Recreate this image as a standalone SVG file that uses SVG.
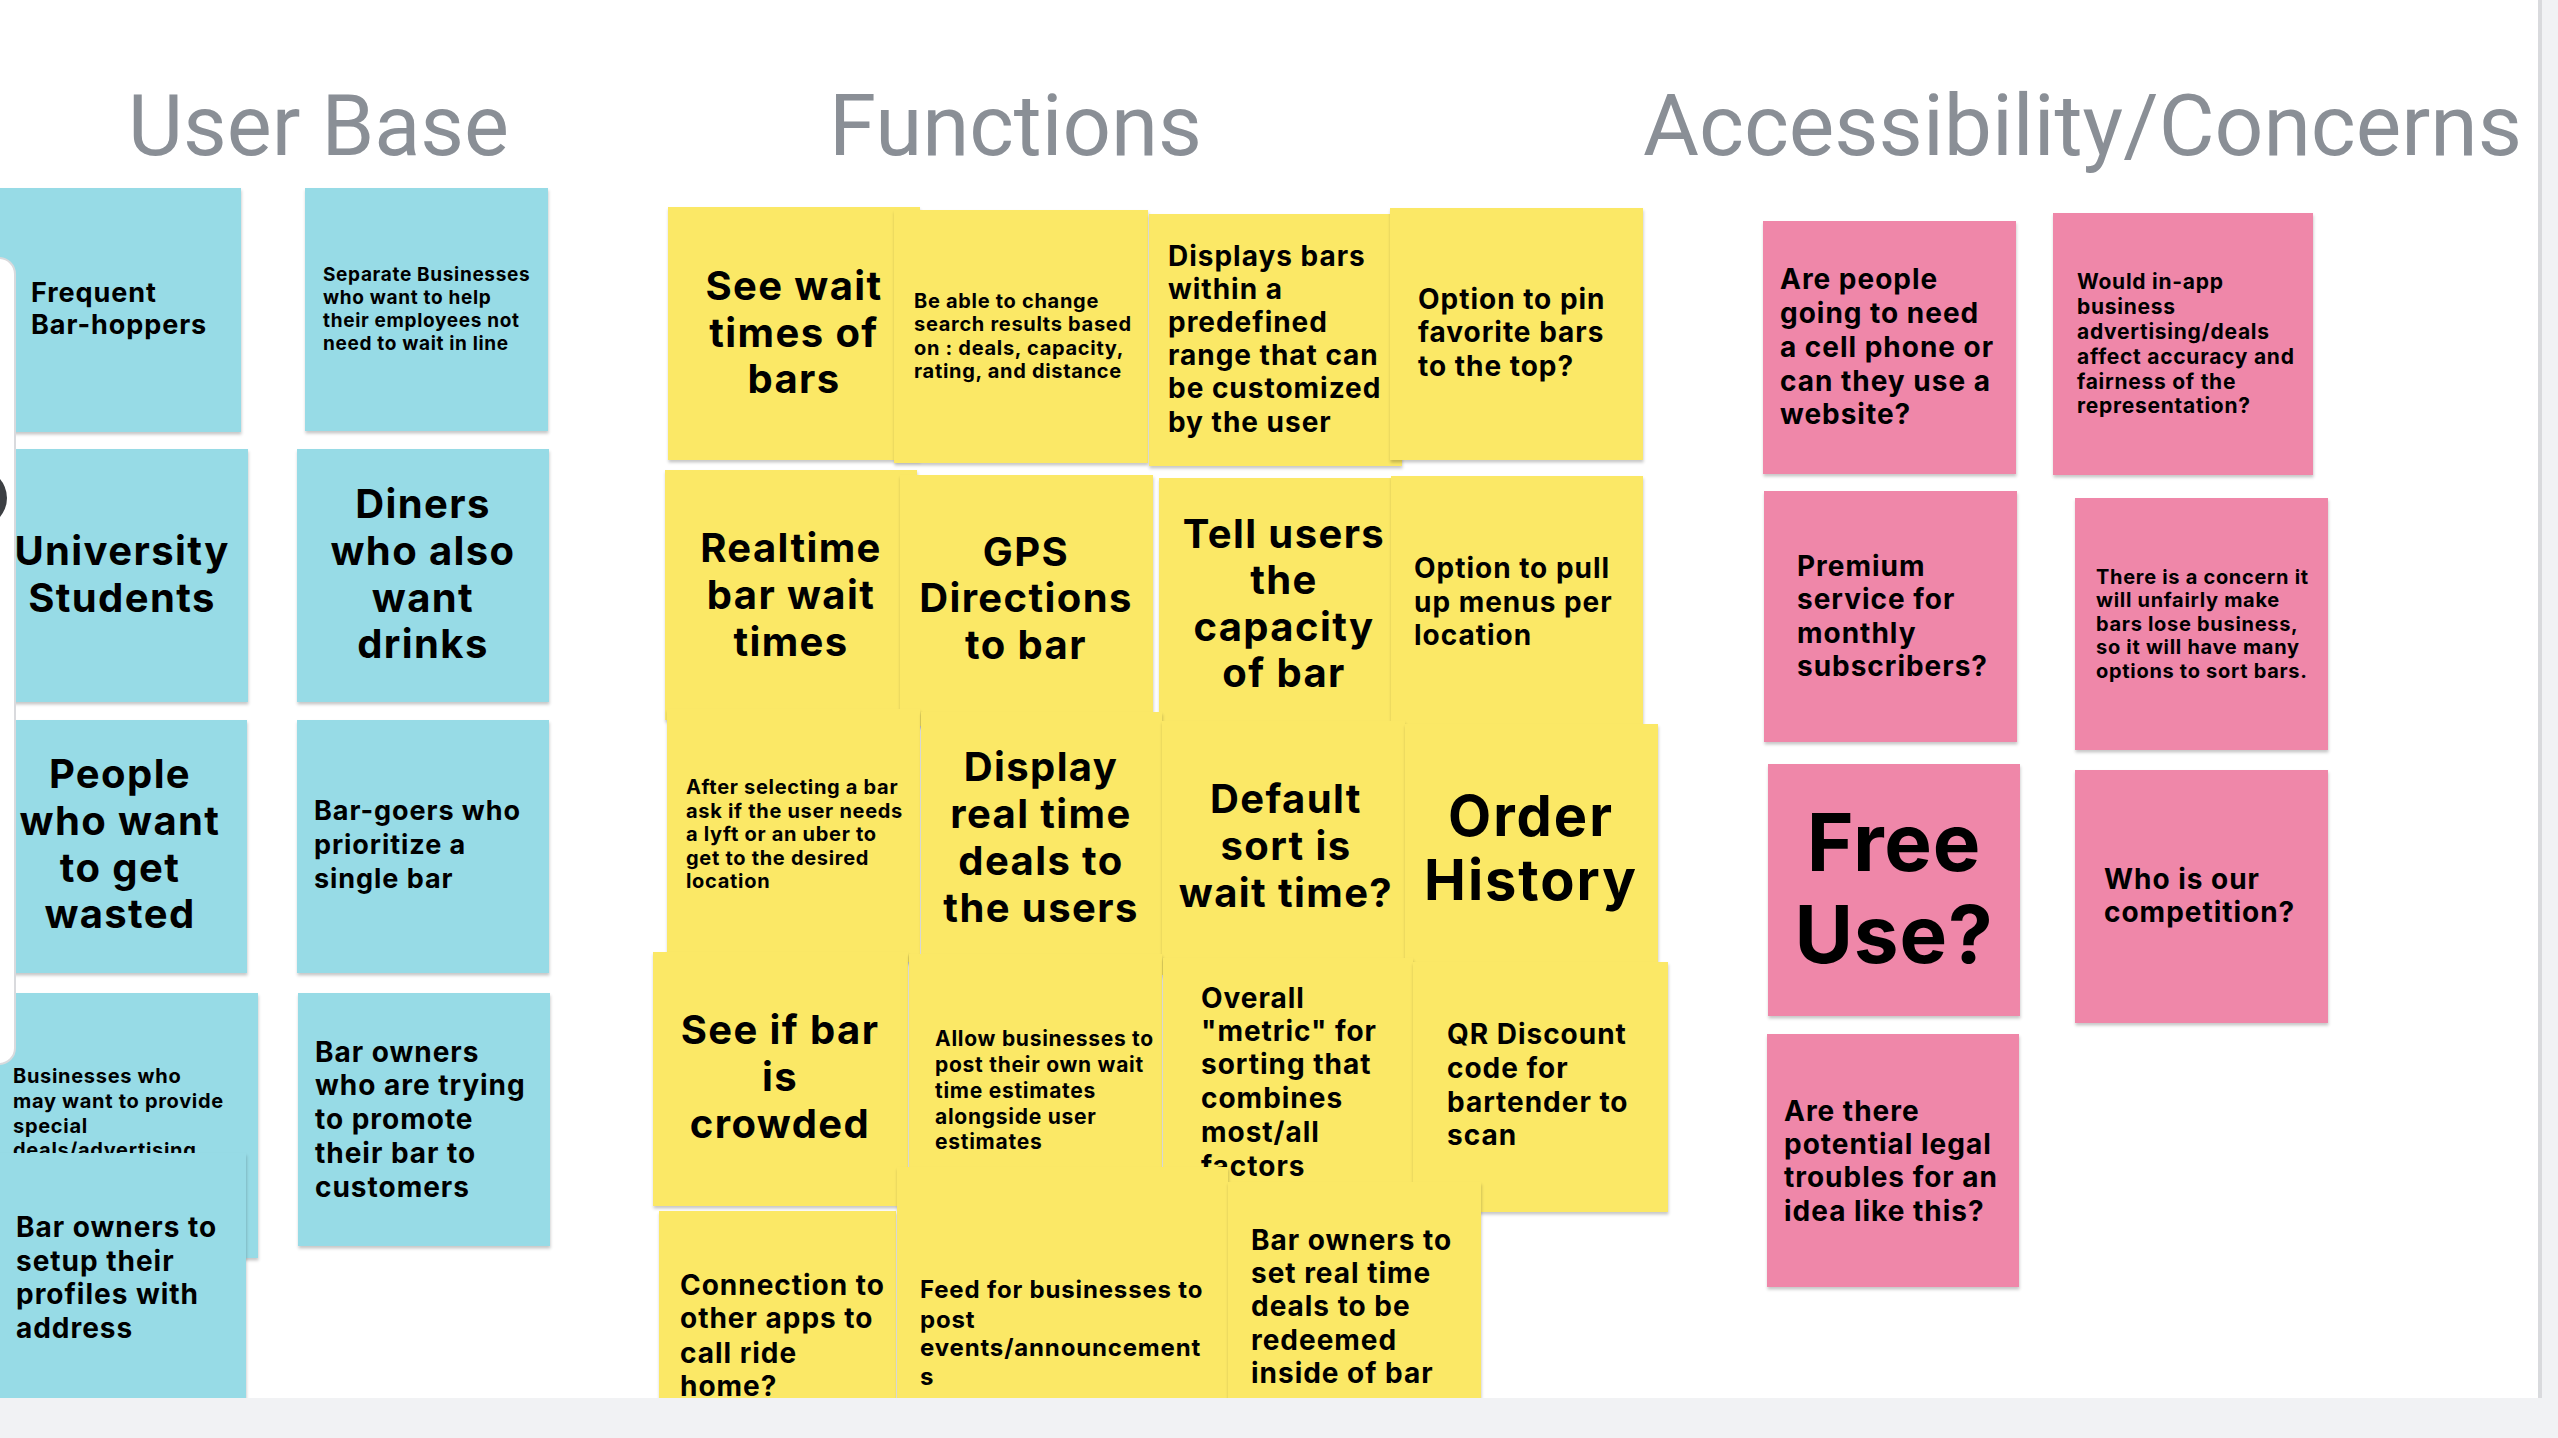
<svg xmlns="http://www.w3.org/2000/svg" width="2558" height="1438" viewBox="0 0 2558 1438">
<defs>
<filter id="sh" x="-5%" y="-5%" width="115%" height="115%">
<feDropShadow dx="0.5" dy="2.5" stdDeviation="1.5" flood-color="#000" flood-opacity="0.22"/>
</filter>
<style>
.h{font-family:Roboto,"Liberation Sans",sans-serif;font-size:86px;fill:#8a8f96;font-weight:400}
.n{filter:url(#sh)}
.b{fill:#97dbe6}
.y{fill:#fbe866}
.p{fill:#ef87a9}
.t{font-family:Inter,"Open Sans","Liberation Sans",sans-serif;font-weight:700;fill:#000;letter-spacing:0.035em}
.c{text-anchor:middle}
</style>
</defs>
<rect x="0" y="0" width="2558" height="1438" fill="#ffffff"/>

<g id="headers">
<text class="h" x="128" y="155" textLength="381" lengthAdjust="spacingAndGlyphs">User Base</text>
<text class="h" x="829" y="155" textLength="373" lengthAdjust="spacingAndGlyphs">Functions</text>
<text class="h" x="1643" y="155" textLength="879" lengthAdjust="spacingAndGlyphs">Accessibility/Concerns</text>
</g>

<g id="connectors"></g>

<!-- User Base -->
<g id="ub-frequent"><rect class="n b" x="0" y="188" width="241" height="244"/>
<text class="t" font-size="27"><tspan x="31" y="302">Frequent</tspan><tspan x="31" y="334">Bar-hoppers</tspan></text></g>
<g id="ub-separate"><rect class="n b" x="305" y="188" width="243" height="243"/>
<text class="t" font-size="19"><tspan x="323" y="281">Separate Businesses</tspan><tspan x="323" y="304">who want to help</tspan><tspan x="323" y="327">their employees not</tspan><tspan x="323" y="350">need to wait in line</tspan></text></g>
<g id="ub-university"><rect class="n b" x="0" y="449" width="248" height="253"/>
<text class="t c" font-size="40"><tspan x="122" y="565">University</tspan><tspan x="122" y="612">Students</tspan></text></g>
<g id="ub-diners"><rect class="n b" x="297" y="449" width="252" height="253"/>
<text class="t c" font-size="40"><tspan x="423" y="518">Diners</tspan><tspan x="423" y="565">who also</tspan><tspan x="423" y="612">want</tspan><tspan x="423" y="658">drinks</tspan></text></g>
<g id="ub-people"><rect class="n b" x="0" y="720" width="247" height="253"/>
<text class="t c" font-size="40"><tspan x="120" y="788">People</tspan><tspan x="120" y="835">who want</tspan><tspan x="120" y="882">to get</tspan><tspan x="120" y="928">wasted</tspan></text></g>
<g id="ub-bargoers"><rect class="n b" x="297" y="720" width="252" height="253"/>
<text class="t" font-size="27"><tspan x="314" y="820">Bar-goers who</tspan><tspan x="314" y="854">prioritize a</tspan><tspan x="314" y="888">single bar</tspan></text></g>
<g id="ub-businesses"><rect class="n b" x="0" y="993" width="258" height="265"/>
<text class="t" font-size="20"><tspan x="13" y="1083">Businesses who</tspan><tspan x="13" y="1108">may want to provide</tspan><tspan x="13" y="1133">special</tspan><tspan x="13" y="1157">deals/advertising</tspan></text></g>
<g id="ub-promote"><rect class="n b" x="298" y="993" width="252" height="253"/>
<text class="t" font-size="28"><tspan x="315" y="1062">Bar owners</tspan><tspan x="315" y="1095">who are trying</tspan><tspan x="315" y="1129">to promote</tspan><tspan x="315" y="1163">their bar to</tspan><tspan x="315" y="1197">customers</tspan></text></g>
<g id="ub-setup"><rect class="n b" x="0" y="1153" width="246" height="270"/>
<text class="t" font-size="28"><tspan x="16" y="1237">Bar owners to</tspan><tspan x="16" y="1271">setup their</tspan><tspan x="16" y="1304">profiles with</tspan><tspan x="16" y="1338">address</tspan></text></g>

<!-- Functions -->
<g id="fn-seewait"><rect class="n y" x="668" y="207" width="252" height="253"/>
<text class="t c" font-size="40"><tspan x="794" y="300">See wait</tspan><tspan x="794" y="347">times of</tspan><tspan x="794" y="393">bars</tspan></text></g>
<g id="fn-change"><rect class="n y" x="894" y="210" width="254" height="253"/>
<text class="t" font-size="20"><tspan x="914" y="308">Be able to change</tspan><tspan x="914" y="331">search results based</tspan><tspan x="914" y="355">on : deals, capacity,</tspan><tspan x="914" y="378">rating, and distance</tspan></text></g>
<g id="fn-range"><rect class="n y" x="1149" y="214" width="253" height="252"/>
<text class="t" font-size="28"><tspan x="1168" y="266">Displays bars</tspan><tspan x="1168" y="299">within a</tspan><tspan x="1168" y="332">predefined</tspan><tspan x="1168" y="365">range that can</tspan><tspan x="1168" y="398">be customized</tspan><tspan x="1168" y="432">by the user</tspan></text></g>
<g id="fn-pin"><rect class="n y" x="1390" y="208" width="253" height="252"/>
<text class="t" font-size="28"><tspan x="1418" y="309">Option to pin</tspan><tspan x="1418" y="342">favorite bars</tspan><tspan x="1418" y="376">to the top?</tspan></text></g>
<g id="fn-realtime"><rect class="n y" x="665" y="470" width="252" height="250"/>
<text class="t c" font-size="40"><tspan x="791" y="562">Realtime</tspan><tspan x="791" y="609">bar wait</tspan><tspan x="791" y="656">times</tspan></text></g>
<g id="fn-gps"><rect class="n y" x="900" y="475" width="253" height="251"/>
<text class="t c" font-size="40"><tspan x="1026" y="566">GPS</tspan><tspan x="1026" y="612">Directions</tspan><tspan x="1026" y="659">to bar</tspan></text></g>
<g id="fn-capacity"><rect class="n y" x="1159" y="478" width="243" height="253"/>
<text class="t c" font-size="40"><tspan x="1284" y="548">Tell users</tspan><tspan x="1284" y="594">the</tspan><tspan x="1284" y="641">capacity</tspan><tspan x="1284" y="687">of bar</tspan></text></g>
<g id="fn-menus"><rect class="n y" x="1391" y="476" width="252" height="252"/>
<text class="t" font-size="28"><tspan x="1414" y="578">Option to pull</tspan><tspan x="1414" y="612">up menus per</tspan><tspan x="1414" y="645">location</tspan></text></g>
<g id="fn-lyft"><rect class="n y" x="667" y="709" width="253" height="253"/>
<text class="t" font-size="20"><tspan x="686" y="794">After selecting a bar</tspan><tspan x="686" y="818">ask if the user needs</tspan><tspan x="686" y="841">a lyft or an uber to</tspan><tspan x="686" y="865">get to the desired</tspan><tspan x="686" y="888">location</tspan></text></g>
<g id="fn-deals"><rect class="n y" x="921" y="712" width="241" height="253"/>
<text class="t c" font-size="40"><tspan x="1041" y="781">Display</tspan><tspan x="1041" y="828">real time</tspan><tspan x="1041" y="875">deals to</tspan><tspan x="1041" y="922">the users</tspan></text></g>
<g id="fn-default"><rect class="n y" x="1162" y="721" width="243" height="254"/>
<text class="t c" font-size="40"><tspan x="1286" y="813">Default</tspan><tspan x="1286" y="860">sort is</tspan><tspan x="1286" y="907">wait time?</tspan></text></g>
<g id="fn-history"><rect class="n y" x="1405" y="724" width="253" height="251"/>
<text class="t c" font-size="56"><tspan x="1531" y="836">Order</tspan><tspan x="1531" y="900">History</tspan></text></g>
<g id="fn-crowded"><rect class="n y" x="653" y="952" width="255" height="254"/>
<text class="t c" font-size="40"><tspan x="780" y="1044">See if bar</tspan><tspan x="780" y="1091">is</tspan><tspan x="780" y="1138">crowded</tspan></text></g>
<g id="fn-allow"><rect class="n y" x="909" y="954" width="253" height="253"/>
<text class="t" font-size="21"><tspan x="935" y="1046">Allow businesses to</tspan><tspan x="935" y="1072">post their own wait</tspan><tspan x="935" y="1098">time estimates</tspan><tspan x="935" y="1124">alongside user</tspan><tspan x="935" y="1149">estimates</tspan></text></g>
<g id="fn-metric"><rect class="n y" x="1163" y="958" width="250" height="253"/>
<text class="t" font-size="28"><tspan x="1201" y="1008">Overall</tspan><tspan x="1201" y="1041">"metric" for</tspan><tspan x="1201" y="1074">sorting that</tspan><tspan x="1201" y="1108">combines</tspan><tspan x="1201" y="1142">most/all</tspan><tspan x="1201" y="1176">factors</tspan></text></g>
<g id="fn-qr"><rect class="n y" x="1413" y="962" width="255" height="250"/>
<text class="t" font-size="28"><tspan x="1447" y="1044">QR Discount</tspan><tspan x="1447" y="1078">code for</tspan><tspan x="1447" y="1112">bartender to</tspan><tspan x="1447" y="1145">scan</tspan></text></g>
<g id="fn-ride"><rect class="n y" x="659" y="1211" width="237" height="230"/>
<text class="t" font-size="28"><tspan x="680" y="1295">Connection to</tspan><tspan x="680" y="1328">other apps to</tspan><tspan x="680" y="1363">call ride</tspan><tspan x="680" y="1396">home?</tspan></text></g>
<g id="fn-feed"><rect class="n y" x="897" y="1167" width="331" height="270"/>
<text class="t" font-size="24"><tspan x="920" y="1298">Feed for businesses to</tspan><tspan x="920" y="1328">post</tspan><tspan x="920" y="1356">events/announcement</tspan><tspan x="920" y="1385">s</tspan></text></g>
<g id="fn-setdeals"><rect class="n y" x="1228" y="1182" width="253" height="260"/>
<text class="t" font-size="28"><tspan x="1251" y="1250">Bar owners to</tspan><tspan x="1251" y="1283">set real time</tspan><tspan x="1251" y="1316">deals to be</tspan><tspan x="1251" y="1350">redeemed</tspan><tspan x="1251" y="1383">inside of bar</tspan></text></g>

<!-- Accessibility / Concerns -->
<g id="ac-phone"><rect class="n p" x="1763" y="221" width="253" height="253"/>
<text class="t" font-size="28"><tspan x="1780" y="289">Are people</tspan><tspan x="1780" y="323">going to need</tspan><tspan x="1780" y="357">a cell phone or</tspan><tspan x="1780" y="391">can they use a</tspan><tspan x="1780" y="424">website?</tspan></text></g>
<g id="ac-advertising"><rect class="n p" x="2053" y="213" width="260" height="262"/>
<text class="t" font-size="21"><tspan x="2077" y="289">Would in-app</tspan><tspan x="2077" y="314">business</tspan><tspan x="2077" y="339">advertising/deals</tspan><tspan x="2077" y="364">affect accuracy and</tspan><tspan x="2077" y="389">fairness of the</tspan><tspan x="2077" y="413">representation?</tspan></text></g>
<g id="ac-premium"><rect class="n p" x="1764" y="491" width="253" height="251"/>
<text class="t" font-size="28"><tspan x="1797" y="576">Premium</tspan><tspan x="1797" y="609">service for</tspan><tspan x="1797" y="643">monthly</tspan><tspan x="1797" y="676">subscribers?</tspan></text></g>
<g id="ac-unfair"><rect class="n p" x="2075" y="498" width="253" height="252"/>
<text class="t" font-size="20"><tspan x="2096" y="584">There is a concern it</tspan><tspan x="2096" y="607">will unfairly make</tspan><tspan x="2096" y="631">bars lose business,</tspan><tspan x="2096" y="654">so it will have many</tspan><tspan x="2096" y="678">options to sort bars.</tspan></text></g>
<g id="ac-free"><rect class="n p" x="1768" y="764" width="252" height="252"/>
<text class="t c" font-size="80" style="letter-spacing:0.01em"><tspan x="1894" y="871">Free</tspan><tspan x="1894" y="963">Use?</tspan></text></g>
<g id="ac-competition"><rect class="n p" x="2075" y="770" width="253" height="253"/>
<text class="t" font-size="28"><tspan x="2104" y="889">Who is our</tspan><tspan x="2104" y="922">competition?</tspan></text></g>
<g id="ac-legal"><rect class="n p" x="1767" y="1034" width="252" height="253"/>
<text class="t" font-size="28"><tspan x="1784" y="1121">Are there</tspan><tspan x="1784" y="1154">potential legal</tspan><tspan x="1784" y="1187">troubles for an</tspan><tspan x="1784" y="1221">idea like this?</tspan></text></g>

<!-- frame chrome -->
<rect x="-30" y="258" width="45" height="806" rx="16" fill="#ffffff" stroke="#d9dadd" stroke-width="2"/>
<circle cx="-22" cy="498" r="29" fill="#3c3f43"/>
<rect x="2542" y="0" width="16" height="1438" fill="#f1f2f4"/>
<rect x="2538" y="0" width="4" height="1398" fill="#d9dadd"/>
<rect x="0" y="1398" width="2558" height="40" fill="#f1f2f4"/>
</svg>
